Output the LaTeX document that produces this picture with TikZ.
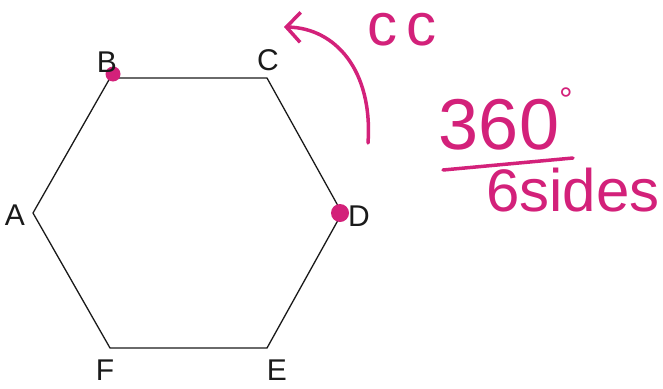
\documentclass[tikz,border=0pt]{standalone}
\usepackage{fontspec}
\setmainfont{Liberation Sans}
\usetikzlibrary{arrows.meta}
\definecolor{penpink}{HTML}{D3217A}
\definecolor{penink}{HTML}{1A1A1A}
\tikzset{
  edge/.style={draw=penink, line width=1.3pt, line join=miter},
  vlbl/.style={font=\fontsize{30}{30}\selectfont, text=penink, inner sep=0pt},
  dotmark/.style={circle, fill=penpink, minimum size=15pt, inner sep=0pt},
  pen/.style={penpink, line width=3.5pt, line cap=round},
  hand/.style={font=\fontsize{60}{60}\selectfont, text=penpink, inner sep=0pt},
}
\begin{document}
\begin{tikzpicture}[x=1pt, y=-1pt]
  \useasboundingbox (0,0) rectangle (663,388);
  \coordinate (A) at (33,213); \coordinate (B) at (110,78); \coordinate (C) at (267,78);
  \coordinate (D) at (342,213); \coordinate (E) at (267,348); \coordinate (F) at (110,348);
  \draw[edge] (A) -- (B) -- (C) -- (D) -- (E) -- (F) -- cycle;
  \node[dotmark] (bdot) at (113,74) {};
  \node[dotmark, minimum size=18pt] (ddot) at (340,213) {};
  \node[vlbl] (la) at (15,215) {A};
  \node[vlbl] (lb) at (107,62) {B};
  \node[vlbl] (lc) at (268,60) {C};
  \node[vlbl] (ld) at (359,216) {D};
  \node[vlbl] (le) at (277,370) {E};
  \node[vlbl] (lf) at (105,370) {F};
  \coordinate (tail) at (368,143);
  \coordinate (tip) at (284,27);
  \draw[pen, -{Straight Barb[length=14pt,width=30pt]}] (tail) .. controls (373,70) and (335,28) .. (tip);
  \node[hand] (cc) at (402,30) {c\hspace{10pt}c};
  \node[hand, font=\fontsize{72}{72}\selectfont] (ang) at (499,125) {360};
  \node[hand, font=\fontsize{34}{34}\selectfont] (deg) at (566,100) {°};
  \coordinate (ul) at (443,170); \coordinate (ur) at (573,158);
  \draw[pen] (ul) -- (ur);
  \node[hand] (sides) at (573,190) {6sides};
\end{tikzpicture}
\end{document}
